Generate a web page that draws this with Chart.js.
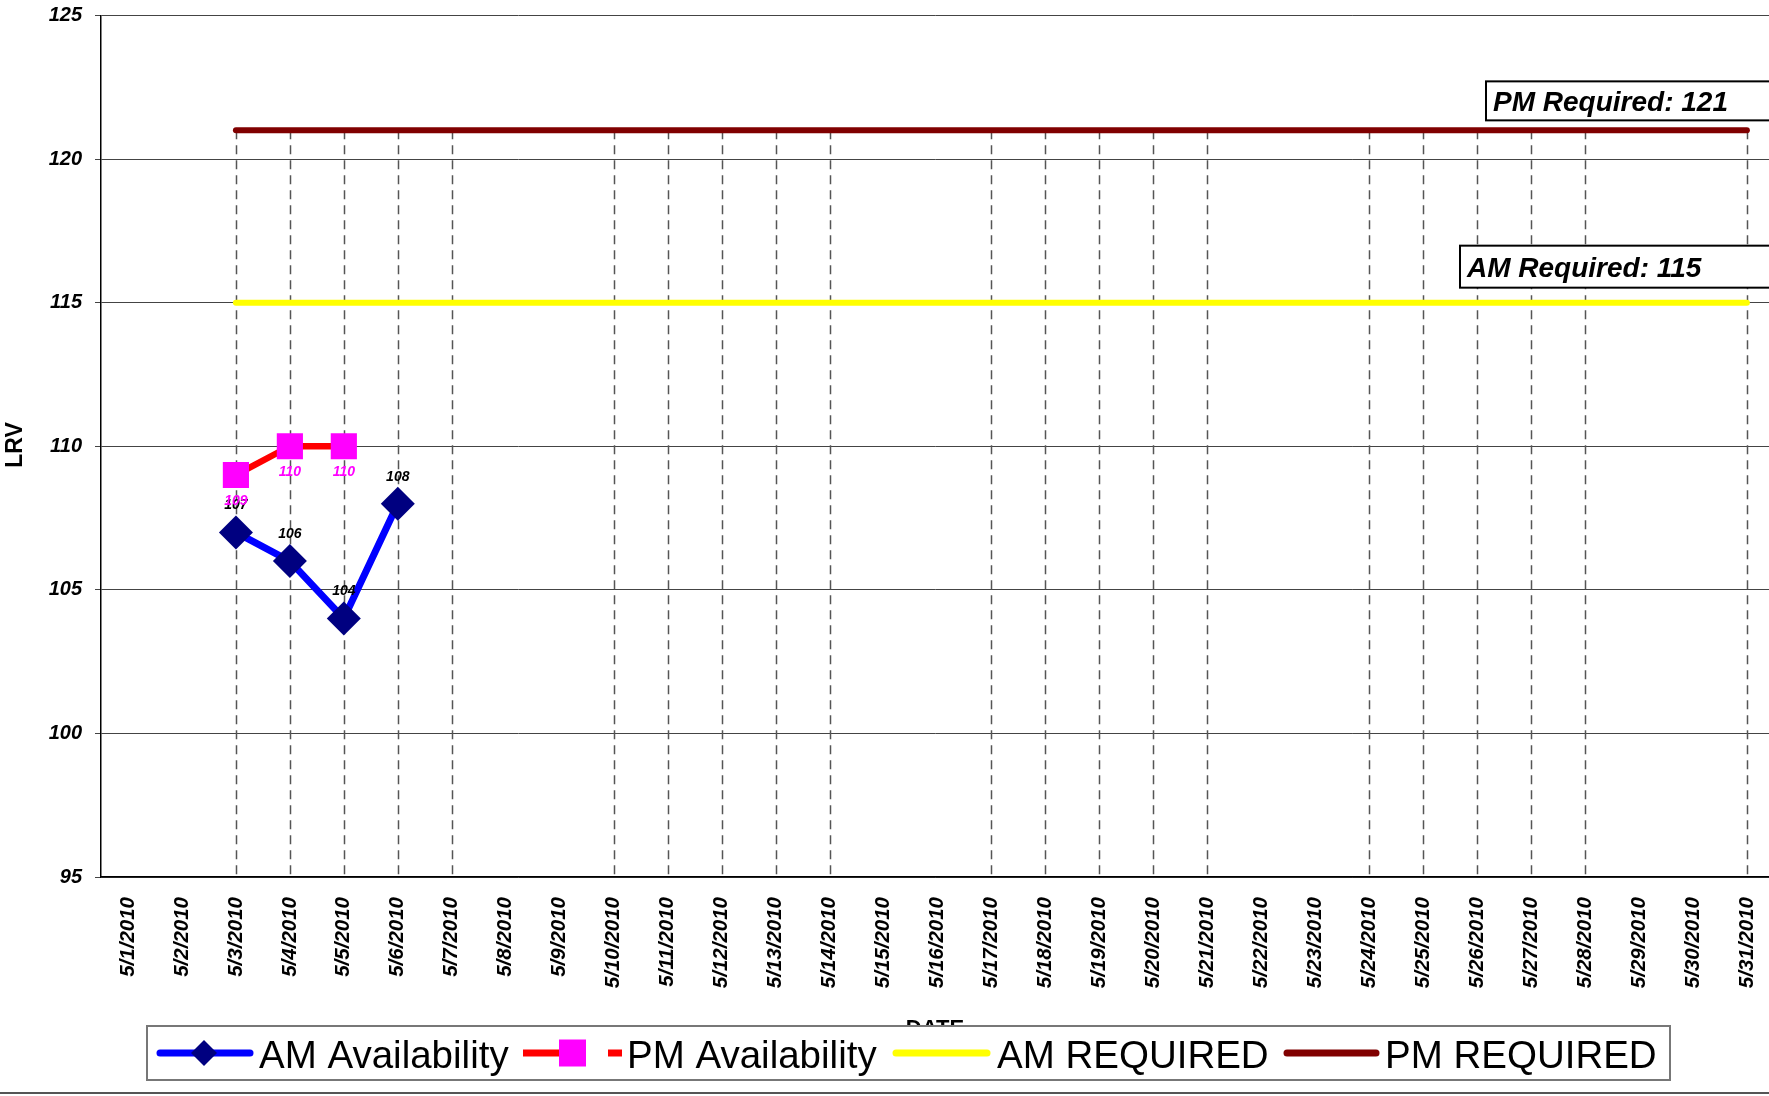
<!DOCTYPE html>
<html><head><meta charset="utf-8">
<script src="https://cdn.jsdelivr.net/npm/chart.js@4.4.0/dist/chart.umd.min.js"></script>
<style>html,body{margin:0;padding:0;background:#fff;overflow:hidden}</style>
</head><body>
<canvas id="c" width="1769" height="1096" style="display:block;width:1769px;height:1096px"></canvas>
<script>
const categories = ['5/1/2010','5/2/2010','5/3/2010','5/4/2010','5/5/2010','5/6/2010','5/7/2010','5/8/2010','5/9/2010','5/10/2010','5/11/2010','5/12/2010','5/13/2010','5/14/2010','5/15/2010','5/16/2010','5/17/2010','5/18/2010','5/19/2010','5/20/2010','5/21/2010','5/22/2010','5/23/2010','5/24/2010','5/25/2010','5/26/2010','5/27/2010','5/28/2010','5/29/2010','5/30/2010','5/31/2010'];
const amAvailability = [null,null,107,106,104,108,null,null,null,null,null,null,null,null,null,null,null,null,null,null,null,null,null,null,null,null,null,null,null,null,null];
const pmAvailability = [null,null,109,110,110,null,null,null,null,null,null,null,null,null,null,null,null,null,null,null,null,null,null,null,null,null,null,null,null,null,null];
const amRequired = [null,null,115,115,115,115,115,null,null,115,115,115,115,115,null,null,115,115,115,115,115,null,null,115,115,115,115,115,null,null,115];
const pmRequired = [null,null,121,121,121,121,121,null,null,121,121,121,121,121,null,null,121,121,121,121,121,null,null,121,121,121,121,121,null,null,121];
const yTicks = [95,100,105,110,115,120,125];
const seriesNames = ['AM Availability','PM Availability','AM REQUIRED','PM REQUIRED'];
const requiredLabels = ['PM Required: 121','AM Required: 115'];

const FONT = "'Liberation Sans', Arial, sans-serif";
const toXY = arr => arr.map((v,i)=>({x:i+1,y:v}));

const dropLines = {
  id:'dropLines',
  beforeDatasetsDraw(chart){
    const {ctx, scales:{x,y}} = chart;
    ctx.save();
    ctx.strokeStyle='#555'; ctx.lineWidth=1.5; ctx.setLineDash([9,6]);
    categories.forEach((c,i)=>{
      const vals=[amAvailability[i],pmAvailability[i],amRequired[i],pmRequired[i]].filter(v=>v!=null);
      if(pmRequired[i]==null) return;
      const px=Math.round(x.getPixelForValue(i+1))+0.5;
      ctx.beginPath(); ctx.moveTo(px,y.getPixelForValue(Math.max(...vals))); ctx.lineTo(px,y.bottom); ctx.stroke();
    });
    ctx.restore();
  }
};

const pointLabels = {
  id:'pointLabels',
  afterDatasetsDraw(chart){
    const {ctx}=chart;
    ctx.save();
    ctx.font="italic bold 14px "+FONT; ctx.textAlign='center'; ctx.textBaseline='middle';
    chart.getDatasetMeta(0).data.forEach((p,i)=>{ if(amAvailability[i]==null) return; ctx.fillStyle='#000'; ctx.fillText(String(amAvailability[i]),p.x,p.y-27); });
    chart.getDatasetMeta(1).data.forEach((p,i)=>{ if(pmAvailability[i]==null) return; ctx.fillStyle='#FF00FF'; ctx.fillText(String(pmAvailability[i]),p.x,p.y+26); });
    ctx.restore();
  }
};

const extras = {
  id:'extras',
  afterDraw(chart){
    const {ctx, scales:{x,y}, chartArea}=chart;
    ctx.save();
    // required annotation boxes
    const boxes=[{t:requiredLabels[0],x:1486,yb:y.getPixelForValue(121)-10,h:39},{t:requiredLabels[1],x:1460,yb:y.getPixelForValue(115)-15,h:42}];
    boxes.forEach(b=>{
      ctx.fillStyle='#fff'; ctx.fillRect(b.x,b.yb-b.h,400,b.h);
      ctx.strokeStyle='#000'; ctx.lineWidth=2; ctx.strokeRect(b.x,b.yb-b.h,400,b.h);
      ctx.fillStyle='#000'; ctx.font="italic bold 28px "+FONT; ctx.textAlign='left'; ctx.textBaseline='alphabetic';
      ctx.fillText(b.t,b.x+7,b.yb-b.h/2+10);
    });
    // axis titles
    ctx.fillStyle='#000'; ctx.font="bold 23px "+FONT; ctx.textAlign='center'; ctx.textBaseline='middle';
    ctx.save(); ctx.translate(16,445); ctx.rotate(-Math.PI/2); ctx.fillText('LRV',0,0); ctx.restore();
    ctx.font="bold 22px "+FONT; ctx.textBaseline='top';
    ctx.fillText('DATE',(chartArea.left+chartArea.right)/2,1018);
    // legend
    const lx=147, ly=1026, lw=1523, lh=54, cy=1053;
    ctx.fillStyle='#fff'; ctx.fillRect(lx,ly,lw,lh);
    ctx.strokeStyle='#777'; ctx.lineWidth=2; ctx.strokeRect(lx,ly,lw,lh);
    ctx.lineCap='round';
    const seg=(x1,x2,col,w)=>{ctx.strokeStyle=col;ctx.lineWidth=w;ctx.beginPath();ctx.moveTo(x1,cy);ctx.lineTo(x2,cy);ctx.stroke();};
    const ds=chart.data.datasets;
    seg(160,250,ds[0].borderColor,7);
    ctx.fillStyle=ds[0].pointBackgroundColor; ctx.beginPath(); ctx.moveTo(204,cy-13); ctx.lineTo(217,cy); ctx.lineTo(204,cy+13); ctx.lineTo(191,cy); ctx.closePath(); ctx.fill();
    ctx.lineCap='butt';
    seg(523,560,ds[1].borderColor,7); seg(608,622,ds[1].borderColor,7);
    ctx.fillStyle=ds[1].pointBackgroundColor; ctx.fillRect(559,cy-13.5,27,27);
    ctx.lineCap='round';
    seg(896,987,ds[2].borderColor,7);
    seg(1287,1376,ds[3].borderColor,7);
    ctx.fillStyle='#000'; ctx.font="38.5px "+FONT; ctx.textAlign='left'; ctx.textBaseline='alphabetic';
    const tx=[259,627,997,1385];
    seriesNames.forEach((n,i)=>ctx.fillText(n,tx[i],1068));
    // bottom border
    ctx.strokeStyle='#555'; ctx.lineWidth=2; ctx.beginPath(); ctx.moveTo(0,1093); ctx.lineTo(1769,1093); ctx.stroke();
    ctx.restore();
  }
};

new Chart(document.getElementById('c'),{
  type:'line',
  data:{datasets:[
    {label:seriesNames[0],data:toXY(amAvailability),borderColor:'#0000FF',borderWidth:7,pointStyle:'rectRot',pointRadius:17,pointBackgroundColor:'#000080',pointBorderColor:'#000080',pointBorderWidth:0,borderJoinStyle:'round',borderCapStyle:'round'},
    {label:seriesNames[1],data:toXY(pmAvailability),borderColor:'#FF0000',borderWidth:6.5,pointStyle:'rect',pointRadius:18.5,pointBackgroundColor:'#FF00FF',pointBorderColor:'#FF00FF',pointBorderWidth:0,borderJoinStyle:'round',borderCapStyle:'round'},
    {label:seriesNames[2],data:toXY(amRequired),borderColor:'#FFFF00',borderWidth:6,pointRadius:0,spanGaps:true,borderCapStyle:'round'},
    {label:seriesNames[3],data:toXY(pmRequired),borderColor:'#800000',borderWidth:6,pointRadius:0,spanGaps:true,borderCapStyle:'round'}
  ]},
  options:{
    responsive:false, animation:false, devicePixelRatio:1,
    layout:{autoPadding:false,padding:{top:15.5,right:0,bottom:0,left:0}},
    plugins:{legend:{display:false},tooltip:{enabled:false}},
    scales:{
      x:{type:'linear',min:0.5,max:31.41,
        afterBuildTicks:s=>{s.ticks=categories.map((c,i)=>({value:i+1}));},
        afterFit:s=>{s.height=219; s.paddingLeft=0; s.paddingRight=0;},
        grid:{display:false,drawTicks:false},
        border:{display:true,color:'#000',width:1.5},
        ticks:{autoSkip:false,maxRotation:90,minRotation:90,padding:20,color:'#000',
          font:{family:FONT,size:20.5,weight:'bold',style:'italic'},
          callback:v=>categories[v-1]}},
      y:{min:95,max:125,
        afterBuildTicks:s=>{s.ticks=yTicks.map(v=>({value:v}));},
        afterFit:s=>{s.width=101; s.paddingTop=0; s.paddingBottom=0;},
        grid:{color:'#444',lineWidth:1,tickLength:6,drawTicks:true},
        border:{display:true,color:'#000',width:1.5},
        ticks:{padding:13,color:'#000',font:{family:FONT,size:20,weight:'bold',style:'italic'}}}
    }
  },
  plugins:[dropLines,pointLabels,extras]
});
</script>
</body></html>
